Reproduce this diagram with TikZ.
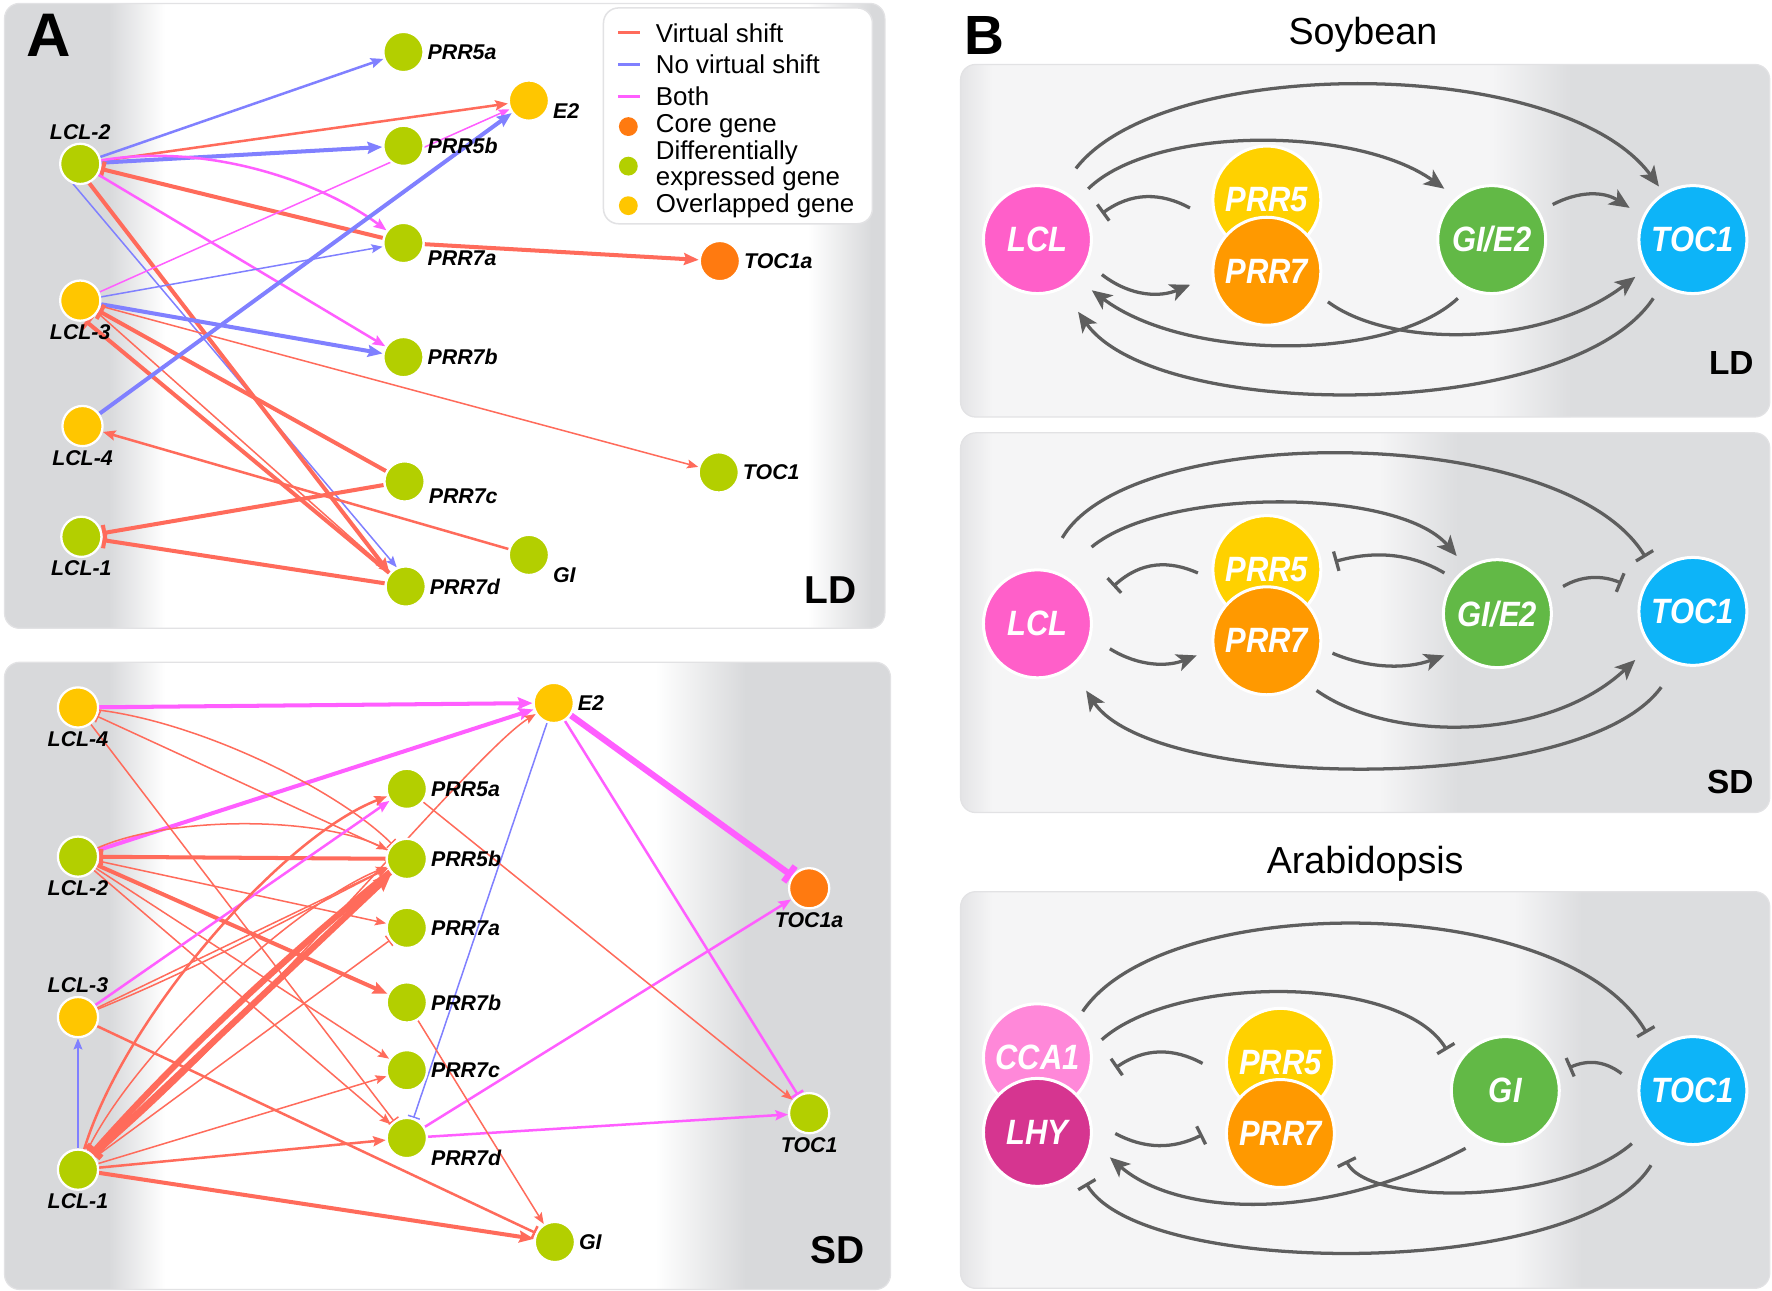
\documentclass[tikz,border=0pt]{standalone}
\usepackage{fontspec}
\setmainfont{Liberation Sans}
\newfontfamily\hubfont[FakeStretch=0.88]{Liberation Sans}
\usetikzlibrary{arrows.meta,calc}

% colours
\definecolor{pgray}{HTML}{D8D9DB}
\definecolor{boxlight}{HTML}{F5F5F6}
\definecolor{boxedge}{HTML}{E4E4E6}
\definecolor{boxdark}{HTML}{DCDDDF}
\definecolor{boxline}{HTML}{E2E2E4}
\definecolor{degreen}{HTML}{B3CF00}
\definecolor{ovyellow}{HTML}{FFC600}
\definecolor{coorange}{HTML}{FF7A10}
\definecolor{vsred}{HTML}{FF6B5B}
\definecolor{nvsblue}{HTML}{8080FF}
\definecolor{bthpink}{HTML}{FF5EFF}
\definecolor{linkgray}{HTML}{5E5E5E}
\definecolor{lclpink}{HTML}{FF5FC9}
\definecolor{prrfive}{HTML}{FFD100}
\definecolor{prrseven}{HTML}{FF9900}
\definecolor{gigreen}{HTML}{62B946}
\definecolor{tocblue}{HTML}{0DB4F8}
\definecolor{ccapink}{HTML}{FF88D9}
\definecolor{lhymag}{HTML}{D63590}

\pgfdeclarelayer{panels}
\pgfdeclarelayer{edges}
\pgfsetlayers{panels,edges,main}

\tikzset{
  gene/.style={circle, draw=white, line width=0.9pt, minimum size=16pt, inner sep=0pt},
  degene/.style={gene, fill=degreen},
  ovgene/.style={gene, fill=ovyellow},
  cogene/.style={gene, fill=coorange},
  glab/.style={font=\fontsize{8.5}{9}\selectfont\bfseries\itshape, inner sep=1pt},
  legtxt/.style={anchor=west, inner sep=0pt, align=left, font=\fontsize{10.3}{8.8}\selectfont},
  vs/.style={draw=vsred},
  nvs/.style={draw=nvsblue},
  bth/.style={draw=bthpink},
  lwa/.style={line width=0.6pt},
  lwb/.style={line width=1pt},
  lwc/.style={line width=1.6pt},
  lwd/.style={line width=2.5pt},
  act/.style={-{Stealth[length=3.6pt 1.4, width=2.8pt 1.2, inset=0.8pt]}},
  inh/.style={-{Bar[width=4pt 1.5]}},
  hub/.style={circle, draw=white, line width=1.2pt, minimum size=43pt, inner sep=0pt,
    text=white, font=\hubfont\fontsize{14}{15}\selectfont\bfseries\itshape},
  cline/.style={draw=linkgray, line width=1.3pt},
  induce/.style={cline, -{Stealth[length=8pt, width=7pt, inset=2pt]}},
  repress/.style={cline, -{Bar[width=8pt]}},
}

\begin{document}
\begin{tikzpicture}[x=0.45pt, y=-0.45pt]
\useasboundingbox (0,0) rectangle (1568,1142);

% Panel backgrounds
\begin{pgfonlayer}{panels}
  \foreach \ytop/\ybot/\xr/\ga/\gb in {3/556/783/715/772, 586/1141/788/580/660}{
    \begin{scope}
      \clip[rounded corners=6pt] (4,\ytop) rectangle (\xr,\ybot);
      \fill[white] (4,\ytop) rectangle (\xr,\ybot);
      \fill[pgray] (4,\ytop) rectangle (97,\ybot);
      \shade[left color=pgray, right color=white] (96,\ytop) rectangle (146,\ybot);
      \shade[left color=white, right color=pgray] (\ga,\ytop) rectangle (\gb,\ybot);
      \fill[pgray] (\gb-1,\ytop) rectangle (\xr,\ybot);
    \end{scope}
    \draw[boxline, rounded corners=6pt, line width=0.5pt] (4,\ytop) rectangle (\xr,\ybot);
  }
  \foreach \ytop/\ybot/\ga/\gb in {57/369/1320/1390, 383/719/1220/1290, 789/1140/1340/1400}{
    \begin{scope}
      \clip[rounded corners=6pt] (850,\ytop) rectangle (1566,\ybot);
      \fill[boxlight] (850,\ytop) rectangle (1566,\ybot);
      \shade[left color=boxedge, right color=boxlight] (850,\ytop) rectangle (878,\ybot);
      \shade[left color=boxlight, right color=boxdark] (\ga,\ytop) rectangle (\gb,\ybot);
      \fill[boxdark] (\gb-1,\ytop) rectangle (1566,\ybot);
    \end{scope}
    \draw[boxline, rounded corners=6pt, line width=0.5pt] (850,\ytop) rectangle (1566,\ybot);
  }
\end{pgfonlayer}

% Panel tags and titles
\node[font=\fontsize{24.5}{25}\selectfont\bfseries] (tagA) at (43,31) {A};
\node[font=\fontsize{22}{23}\selectfont\bfseries] (tagB) at (871,31) {B};
\node[font=\fontsize{15}{16}\selectfont] (soytitle) at (1206,31) {Soybean};
\node[font=\fontsize{15}{16}\selectfont] (aratitle) at (1208,764) {Arabidopsis};
\node[font=\fontsize{15.5}{16}\selectfont\bfseries] (aldtag) at (735,522) {LD};
\node[font=\fontsize{15.5}{16}\selectfont\bfseries] (asdtag) at (741,1106) {SD};
\node[font=\fontsize{13.3}{14}\selectfont\bfseries] (bldtag) at (1532,321) {LD};
\node[font=\fontsize{13.3}{14}\selectfont\bfseries] (bsdtag) at (1531,692) {SD};

% Legend
\draw[draw=boxline, fill=white, rounded corners=6pt, line width=0.6pt] (534,7) rectangle (772,198);
\foreach \y/\c/\t in {29/vsred/Virtual shift, 57/nvsblue/No virtual shift, 85/bthpink/Both}{
  \draw[draw=\c, line width=1.2pt] (547,\y) -- (566,\y);
  \node[legtxt] (leg\y) at (580,\y) {\t};
}
\foreach \y/\c/\t in {112/coorange/Core gene, 147/degreen/{Differentially\\[-0.3pt]expressed gene}, 182/ovyellow/Overlapped gene}{
  \node[circle, fill=\c, minimum size=7.5pt, inner sep=0pt] (dot\y) at (556,\y) {};
  \node[legtxt] (leg\y) at (580,\y) {\t};
}

% A, LD network
\node[degene, label={[glab]above:LCL-2}] (ld-lcl2) at (71,145) {};
\node[ovgene, label={[glab]below:LCL-3}] (ld-lcl3) at (71,266) {};
\node[ovgene, label={[glab]below:LCL-4}] (ld-lcl4) at (73,377) {};
\node[degene, label={[glab]below:LCL-1}] (ld-lcl1) at (72,475) {};
\node[degene, label={[glab]right:PRR5a}] (ld-prr5a) at (357,46) {};
\node[ovgene, label={[glab,yshift=-4pt]right:E2}] (ld-e2) at (468,89) {};
\node[degene, label={[glab]right:PRR5b}] (ld-prr5b) at (357,129) {};
\node[degene, label={[glab,yshift=-6pt]right:PRR7a}] (ld-prr7a) at (357,215) {};
\node[cogene, label={[glab]right:TOC1a}] (ld-toc1a) at (637,231) {};
\node[degene, label={[glab]right:PRR7b}] (ld-prr7b) at (357,316) {};
\node[degene, label={[glab]right:TOC1}] (ld-toc1) at (636,418) {};
\node[degene, label={[glab,yshift=-6pt]right:PRR7c}] (ld-prr7c) at (358,426) {};
\node[degene, label={[glab,yshift=-8pt]right:GI}] (ld-gi) at (468,491) {};
\node[degene, label={[glab]right:PRR7d}] (ld-prr7d) at (359,519) {};

\begin{pgfonlayer}{edges}
  \draw[nvs, lwb, act] (ld-lcl2) -- (ld-prr5a);
  \draw[vs, lwb, act] (ld-lcl2) -- (ld-e2);
  \draw[nvs, lwc, act] (ld-lcl2) -- (ld-prr5b);
  \draw[bth, lwb, act] (ld-lcl2) .. controls (190,125) and (290,165) .. (ld-prr7a);
  \draw[vs, lwc, inh] (ld-prr7a) -- (ld-lcl2);
  \draw[bth, lwb, act] (ld-lcl2) -- (ld-prr7b);
  \draw[nvs, lwa, act] (ld-lcl2.-110) -- (ld-prr7d.115);
  \draw[vs, lwc, act] (ld-lcl2.-65) -- (ld-prr7d.140);
  \draw[bth, lwa, act] (ld-lcl3) -- (ld-e2);
  \draw[nvs, lwa, act] (ld-lcl3) -- (ld-prr7a);
  \draw[nvs, lwc, act] (ld-lcl3) -- (ld-prr7b);
  \draw[vs, lwa, act] (ld-lcl3) -- (ld-toc1);
  \draw[vs, lwc, inh] (ld-prr7c) -- (ld-lcl3);
  \draw[vs, lwc, inh] (ld-prr7d) -- (ld-lcl3.-75);
  \draw[vs, lwa, act] (ld-lcl3.-35) -- (ld-prr7d);
  \draw[nvs, lwc, act] (ld-lcl4) -- (ld-e2);
  \draw[vs, lwb, act] (ld-gi) -- (ld-lcl4);
  \draw[vs, lwc, inh] (ld-prr7c) -- (ld-lcl1);
  \draw[vs, lwc, inh] (ld-prr7d) -- (ld-lcl1);
  \draw[vs, lwc, act] (ld-prr7a) -- (ld-toc1a);
\end{pgfonlayer}

% A, SD network
\node[ovgene, label={[glab]below:LCL-4}] (sd-lcl4) at (69,626) {};
\node[degene, label={[glab]below:LCL-2}] (sd-lcl2) at (69,758) {};
\node[ovgene, label={[glab]above:LCL-3}] (sd-lcl3) at (69,900) {};
\node[degene, label={[glab]below:LCL-1}] (sd-lcl1) at (69,1035) {};
\node[ovgene, label={[glab]right:E2}] (sd-e2) at (490,622) {};
\node[degene, label={[glab]right:PRR5a}] (sd-prr5a) at (360,698) {};
\node[degene, label={[glab]right:PRR5b}] (sd-prr5b) at (360,760) {};
\node[degene, label={[glab]right:PRR7a}] (sd-prr7a) at (360,821) {};
\node[degene, label={[glab]right:PRR7b}] (sd-prr7b) at (360,887) {};
\node[degene, label={[glab]right:PRR7c}] (sd-prr7c) at (360,947) {};
\node[degene, label={[glab,yshift=-8pt]right:PRR7d}] (sd-prr7d) at (360,1007) {};
\node[cogene, label={[glab]below:TOC1a}] (sd-toc1a) at (716,786) {};
\node[degene, label={[glab]below:TOC1}] (sd-toc1) at (716,985) {};
\node[degene, label={[glab]right:GI}] (sd-gi) at (491,1099) {};

\begin{pgfonlayer}{edges}
  \draw[bth, lwc, act] (sd-lcl4) -- (sd-e2);
  \draw[bth, lwc, act] (sd-lcl2) -- (sd-e2);
  \draw[vs, lwa, inh] (sd-prr5b) -- (sd-lcl4);
  \draw[vs, lwa, inh] (sd-lcl4) .. controls (180,640) and (300,700) .. (sd-prr5b);
  \draw[vs, lwa, inh] (sd-lcl4) -- (sd-prr7d);
  \draw[vs, lwa, act] (sd-lcl2) .. controls (150,722) and (280,722) .. (sd-prr5b);
  \draw[vs, lwc, inh] (sd-prr5b) -- (sd-lcl2);
  \draw[vs, lwa, act] (sd-lcl2) -- (sd-prr7a);
  \draw[vs, lwc, act] (sd-lcl2) -- (sd-prr7b);
  \draw[vs, lwa, act] (sd-lcl2) -- (sd-prr7c);
  \draw[vs, lwa, act] (sd-lcl2) -- (sd-prr7d);
  \draw[bth, lwb, act] (sd-lcl3) -- (sd-prr5a);
  \draw[vs, lwa, act] (sd-lcl3) -- (sd-prr5b);
  \draw[vs, lwa, act] (sd-lcl3) .. controls (180,855) and (280,800) .. (sd-prr5b);
  \draw[vs, lwb, inh] (sd-lcl3) -- (sd-gi);
  \draw[nvs, lwa, act] (sd-lcl1) -- (sd-lcl3);
  \draw[vs, lwb, act] (sd-lcl1) .. controls (110,900) and (250,740) .. (sd-prr5a);
  \draw[vs, lwa, act] (sd-lcl1) .. controls (120,930) and (260,800) .. (sd-prr5b);
  \draw[vs, lwd, act] (sd-lcl1) -- (sd-prr5b);
  \draw[vs, lwd, inh] (sd-prr5b) .. controls (262,838) and (162,930) .. (sd-lcl1);
  \draw[vs, lwa, act] (sd-lcl1) .. controls (230,900) and (420,665) .. (sd-e2);
  \draw[vs, lwa, inh] (sd-lcl1) -- (sd-prr7a);
  \draw[vs, lwa, act] (sd-lcl1) -- (sd-prr7c);
  \draw[vs, lwb, act] (sd-lcl1) -- (sd-prr7d);
  \draw[vs, lwc, act] (sd-lcl1) -- (sd-gi);
  \draw[nvs, lwa, inh] (sd-e2) -- (sd-prr7d);
  \draw[bth, lwd, inh] (sd-e2) -- (sd-toc1a);
  \draw[bth, lwb, inh] (sd-e2) -- (sd-toc1);
  \draw[bth, lwb, act] (sd-prr7d) -- (sd-toc1a);
  \draw[bth, lwb, act] (sd-prr7d) -- (sd-toc1);
  \draw[vs, lwa, act] (sd-prr5a) -- (sd-toc1);
  \draw[vs, lwa, act] (sd-prr7b) -- (sd-gi);
\end{pgfonlayer}

% B, soybean LD
\node[hub, fill=lclpink] (sl-lcl) at (918,212) {LCL};
\node[hub, fill=prrfive] (sl-prr5) at (1121,177) {PRR5};
\node[hub, fill=prrseven] (sl-prr7) at (1121,240) {PRR7};
\node[hub, fill=gigreen] (sl-gi) at (1320,212) {GI/E2};
\node[hub, fill=tocblue] (sl-toc1) at (1498,212) {TOC1};

\begin{pgfonlayer}{edges}
  \draw[induce] ($(sl-lcl)+(61.6:32.2pt)$) .. controls (1030,48) and (1382,48) .. ($(sl-toc1)+(122.6:25.1pt)$);
  \draw[induce] ($(sl-lcl)+(45:28.6pt)$) .. controls (1020,111) and (1200,111) .. ($(sl-gi)+(133:27.7pt)$);
  \draw[repress] ($(sl-prr5)+(185.9:30.8pt)$) .. controls (1027,170) and (1001,170) .. ($(sl-lcl)+(22:27.7pt)$);
  \draw[induce] ($(sl-lcl)+(-28.5:29.2pt)$) .. controls (1001,263) and (1027,263) .. ($(sl-prr7)+(190:31pt)$);
  \draw[induce] ($(sl-gi)+(29.9:28pt)$) .. controls (1397,169) and (1419,169) .. ($(sl-toc1)+(153.4:28.2pt)$);
  \draw[induce] ($(sl-gi)+(240:27pt)$) .. controls (1230,320) and (1050,320) .. ($(sl-lcl)+(-43:29.6pt)$);
  \draw[induce] ($(sl-prr7)+(-26.6:27.2pt)$) .. controls (1230,308) and (1365,308) .. ($(sl-toc1)+(212.9:27.3pt)$);
  \draw[induce] ($(sl-toc1)+(236:28.2pt)$) .. controls (1390,374) and (1023,374) .. ($(sl-lcl)+(-60.6:33pt)$);
\end{pgfonlayer}

% B, soybean SD
\node[hub, fill=lclpink] (ss-lcl) at (918,552) {LCL};
\node[hub, fill=prrfive] (ss-prr5) at (1121,504) {PRR5};
\node[hub, fill=prrseven] (ss-prr7) at (1121,567) {PRR7};
\node[hub, fill=gigreen] (ss-gi) at (1325,543) {GI/E2};
\node[hub, fill=tocblue] (ss-toc1) at (1498,541) {TOC1};

\begin{pgfonlayer}{edges}
  \draw[repress] ($(ss-lcl)+(73.9:35.6pt)$) .. controls (1000,373) and (1383,373) .. ($(ss-toc1)+(131.2:28.7pt)$);
  \draw[induce] ($(ss-lcl)+(54.8:37.4pt)$) .. controls (1030,431) and (1237,431) .. ($(ss-gi)+(125.2:28.1pt)$);
  \draw[repress] ($(ss-prr5)+(182.8:27.5pt)$) .. controls (1035,496) and (1010,496) .. ($(ss-lcl)+(26.2:33.6pt)$);
  \draw[repress] ($(ss-gi)+(142.5:26.6pt)$) .. controls (1246,488) and (1213,488) .. ($(ss-prr5)+(6.7:27.2pt)$);
  \draw[repress] ($(ss-gi)+(22.5:28.3pt)$) .. controls (1400,509) and (1418,509) .. ($(ss-toc1)+(158.4:30.5pt)$);
  \draw[induce] ($(ss-lcl)+(-19:30.5pt)$) .. controls (1008,590) and (1033,590) .. ($(ss-prr7)+(191.8:28.5pt)$);
  \draw[induce] ($(ss-prr7)+(-10.7:26.6pt)$) .. controls (1212,592) and (1245,592) .. ($(ss-gi)+(218.2:26.9pt)$);
  \draw[induce] ($(ss-prr7)+(-45:28pt)$) .. controls (1230,657) and (1369,657) .. ($(ss-toc1)+(220.1:30pt)$);
  \draw[induce] ($(ss-toc1)+(247.3:32.7pt)$) .. controls (1400,705) and (1020,700) .. ($(ss-lcl)+(-53.9:32.9pt)$);
\end{pgfonlayer}

% B, Arabidopsis
\node[hub, fill=ccapink] (ar-cca1) at (918,936) {CCA1};
\node[hub, fill=lhymag] (ar-lhy) at (918,1002) {LHY};
\node[hub, fill=prrfive] (ar-prr5) at (1133,940) {PRR5};
\node[hub, fill=prrseven] (ar-prr7) at (1133,1003) {PRR7};
\node[hub, fill=gigreen] (ar-gi) at (1332,965) {GI};
\node[hub, fill=tocblue] (ar-toc1) at (1498,965) {TOC1};

\begin{pgfonlayer}{edges}
  \draw[repress] ($(ar-cca1)+(45.7:25.8pt)$) .. controls (1030,788) and (1384,788) .. ($(ar-toc1)+(128.8:29.4pt)$);
  \draw[repress] ($(ar-cca1)+(15.7:26.6pt)$) .. controls (1040,862) and (1240,862) .. ($(ar-gi)+(145.3:28.4pt)$);
  \draw[repress] ($(ar-prr5)+(180.8:31pt)$) .. controls (1038,927) and (1013,927) .. ($(ar-cca1)+(-7.4:31.3pt)$);
  \draw[repress] ($(ar-toc1)+(166.6:29.2pt)$) .. controls (1419,938) and (1404,938) .. ($(ar-gi)+(19.7:26.8pt)$);
  \draw[repress] ($(ar-lhy)+(-0.8:31pt)$) .. controls (1013,1017) and (1038,1017) .. ($(ar-prr7)+(180.8:31pt)$);
  \draw[induce] ($(ar-gi)+(235.5:27.9pt)$) .. controls (1168,1084) and (1040,1075) .. ($(ar-lhy)+(-19:30.5pt)$);
  \draw[repress] ($(ar-toc1)+(221:32.2pt)$) .. controls (1380,1067) and (1211,1067) .. ($(ar-prr7)+(-22.5:28.3pt)$);
  \draw[repress] ($(ar-toc1)+(240.7:34.1pt)$) .. controls (1400,1132) and (1011,1132) .. ($(ar-lhy)+(-46.3:28pt)$);
\end{pgfonlayer}
\end{tikzpicture}
\end{document}
